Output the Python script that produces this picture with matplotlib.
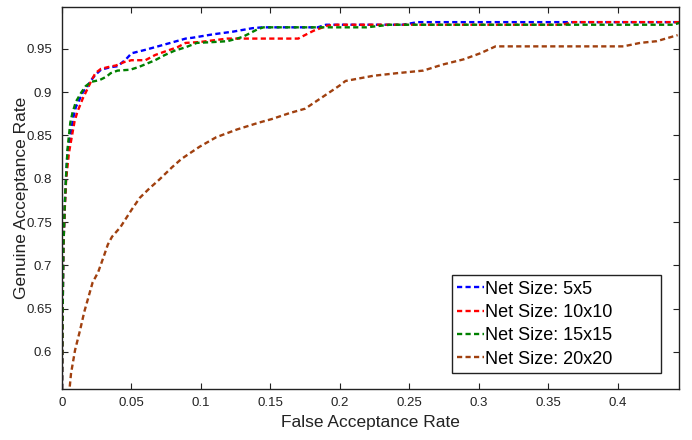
import matplotlib
matplotlib.use("Agg")
import matplotlib.pyplot as plt
from matplotlib.ticker import FuncFormatter

plt.rcParams['font.family'] = ['Liberation Sans', 'DejaVu Sans']

labels = ["Net Size: 5x5", "Net Size: 10x10", "Net Size: 15x15", "Net Size: 20x20"]
colors = ["#0000ff", "#ff0000", "#008000", "#a0400f"]

x_5 = [0, 0.0005, 0.001, 0.002, 0.003, 0.004, 0.006, 0.008, 0.010, 0.013, 0.015, 0.018, 0.021,
       0.024, 0.028, 0.035, 0.040, 0.046, 0.050, 0.060, 0.069, 0.078, 0.089, 0.094, 0.109, 0.123,
       0.137, 0.144, 0.184, 0.190, 0.245, 0.256, 0.444]
y_5 = [0.557, 0.65, 0.72, 0.77, 0.805, 0.832, 0.848, 0.870, 0.883, 0.893, 0.900, 0.906, 0.914,
       0.920, 0.926, 0.929, 0.930, 0.938, 0.945, 0.949, 0.953, 0.957, 0.962, 0.963, 0.967, 0.970,
       0.974, 0.975, 0.975, 0.978, 0.978, 0.981, 0.981]

x_10 = [0, 0.0005, 0.001, 0.002, 0.003, 0.005, 0.007, 0.009, 0.011, 0.013, 0.015, 0.019, 0.021,
        0.024, 0.028, 0.033, 0.039, 0.045, 0.050, 0.060, 0.067, 0.074, 0.083, 0.089, 0.099, 0.109,
        0.119, 0.170, 0.176, 0.181, 0.186, 0.191, 0.198, 0.360, 0.368, 0.444]
y_10 = [0.557, 0.65, 0.72, 0.765, 0.80, 0.83, 0.848, 0.866, 0.877, 0.885, 0.893, 0.906, 0.913,
        0.922, 0.927, 0.929, 0.931, 0.935, 0.937, 0.937, 0.943, 0.947, 0.952, 0.957, 0.958, 0.960,
        0.962, 0.962, 0.967, 0.971, 0.974, 0.977, 0.978, 0.978, 0.981, 0.981]

x_15 = [0, 0.0005, 0.001, 0.002, 0.003, 0.004, 0.006, 0.0075, 0.010, 0.014, 0.017, 0.021, 0.027,
        0.032, 0.035, 0.040, 0.049, 0.055, 0.061, 0.067, 0.074, 0.081, 0.089, 0.097, 0.109, 0.119,
        0.126, 0.130, 0.135, 0.141, 0.145, 0.219, 0.236, 0.440, 0.444]
y_15 = [0.557, 0.65, 0.72, 0.77, 0.805, 0.835, 0.865, 0.876, 0.889, 0.900, 0.907, 0.912, 0.914,
        0.918, 0.922, 0.925, 0.926, 0.929, 0.933, 0.937, 0.943, 0.948, 0.952, 0.957, 0.958, 0.959,
        0.962, 0.964, 0.968, 0.973, 0.975, 0.975, 0.978, 0.978, 0.980]

x_20 = [0.005, 0.0065, 0.0094, 0.013, 0.016, 0.019, 0.022, 0.026, 0.030, 0.033, 0.036, 0.042,
        0.050, 0.056, 0.063, 0.070, 0.079, 0.086, 0.099, 0.111, 0.126, 0.142, 0.151, 0.164, 0.175,
        0.188, 0.200, 0.204, 0.224, 0.241, 0.260, 0.274, 0.289, 0.301, 0.312, 0.404, 0.416, 0.428,
        0.443]
y_20 = [0.55, 0.575, 0.602, 0.625, 0.646, 0.663, 0.680, 0.692, 0.710, 0.724, 0.733, 0.744,
        0.764, 0.778, 0.789, 0.799, 0.813, 0.823, 0.837, 0.848, 0.857, 0.865, 0.869, 0.876, 0.881,
        0.895, 0.908, 0.913, 0.919, 0.922, 0.925, 0.932, 0.938, 0.945, 0.953, 0.953, 0.957, 0.959,
        0.966]

xticks = [0, 0.05, 0.1, 0.15, 0.2, 0.25, 0.3, 0.35, 0.4]
yticks = [0.6, 0.65, 0.7, 0.75, 0.8, 0.85, 0.9, 0.95]

fig = plt.figure(figsize=(6.92, 4.40), dpi=100)
ax = fig.add_axes([62/692, 1-389/440, (679-62)/692, (389-7)/440])

series = [(x_5, y_5), (x_10, y_10), (x_15, y_15), (x_20, y_20)]
for (xs, ys), lab, col in zip(series, labels, colors):
    ax.plot(xs, ys, color=col, lw=1.7, linestyle=(0, (2.2, 1.4)), label=lab)

ax.set_xlim(0, 0.444)
ax.set_ylim(0.557, 0.9985)
ax.set_xticks(xticks)
ax.set_yticks(yticks)
fmt = FuncFormatter(lambda v, p: "%g" % round(v, 4))
ax.xaxis.set_major_formatter(fmt)
ax.yaxis.set_major_formatter(fmt)
ax.tick_params(direction='in', length=4, width=0.8, top=True, right=True,
               labelsize=9.5, colors='#222222')
ax.tick_params(axis='y', pad=7.2)
ax.tick_params(axis='x', pad=6)
for s in ax.spines.values():
    s.set_linewidth(1.0)
    s.set_color('#222222')

ax.set_xlabel("False Acceptance Rate", fontsize=12.5, color='#222222', labelpad=4)
ax.set_ylabel("Genuine Acceptance Rate", fontsize=12.5, color='#222222')
ax.yaxis.set_label_coords(-0.054, 0.5)

leg = ax.legend(loc='lower left', bbox_to_anchor=(0.632, 0.042, 0.339, 0.254), mode='expand',
                fontsize=13, handlelength=1.45, handletextpad=0.1, labelspacing=0.35,
                borderpad=0.3, borderaxespad=0, fancybox=False, framealpha=1)
leg.get_frame().set_edgecolor('#222222')
leg.get_frame().set_linewidth(1.0)

fig.savefig("out.png", dpi=100)
